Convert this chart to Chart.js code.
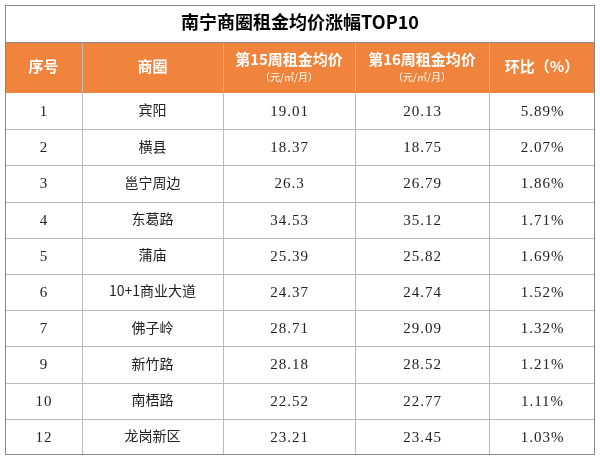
<!DOCTYPE html>
<html><head><meta charset="utf-8">
<script src="https://cdn.jsdelivr.net/npm/chart.js@4/dist/chart.umd.min.js"></script>
<style>html,body{margin:0;padding:0;background:#fff}#wrap{width:600px;height:459px}</style>
</head><body><div id="wrap"><canvas id="c"></canvas></div>
<script>
const title = "南宁商圈租金均价涨幅TOP10";
const headers = ["序号","商圈","第15周租金均价","第16周租金均价","环比（%）"];
const headerSubs = ["","","（元/㎡/月）","（元/㎡/月）",""];
const ranks = ["1","2","3","4","5","6","7","9","10","12"];
const areas = ["宾阳","横县","邕宁周边","东葛路","蒲庙","10+1商业大道","佛子岭","新竹路","南梧路","龙岗新区"];
const week15 = ["19.01","18.37","26.3","34.53","25.39","24.37","28.71","28.18","22.52","23.21"];
const week16 = ["20.13","18.75","26.79","35.12","25.82","24.74","29.09","28.52","22.77","23.45"];
const change = ["5.89%","2.07%","1.86%","1.71%","1.69%","1.52%","1.32%","1.21%","1.11%","1.03%"];
const colEdges = [0,77,218,350,484,590];

const cols = [ranks, areas, week15, week16, change];
const CJK = '"Noto Sans CJK SC", sans-serif';
const NUM = '"Liberation Serif", serif';

const tablePlugin = {
  id:'table',
  afterDraw(chart){
    const {ctx, scales:{x,y}, chartArea:ca} = chart;
    const top = 5, headTop = 42;
    ctx.save();
    ctx.fillStyle = '#F0843C';
    ctx.fillRect(ca.left, headTop, ca.right-ca.left, ca.top-headTop);
    ctx.fillStyle = '#000';
    ctx.font = 'bold 18px ' + CJK;
    ctx.textAlign='center'; ctx.textBaseline='middle';
    ctx.fillText(title, (ca.left+ca.right)/2, (top+headTop)/2-1);
    for(let c=0;c<5;c++){
      const cx = (x.getPixelForValue(colEdges[c])+x.getPixelForValue(colEdges[c+1]))/2;
      ctx.fillStyle='#fff';
      if(headerSubs[c]){
        ctx.font='bold 15px '+CJK; ctx.fillText(headers[c], cx, headTop+17);
        ctx.font='10px '+CJK; ctx.fillText(headerSubs[c], cx, headTop+35);
      } else {
        ctx.font='bold 15px '+CJK; ctx.fillText(headers[c], cx, (headTop+ca.top)/2-1);
      }
    }
    for(let r=0;r<ranks.length;r++){
      const cy = y.getPixelForValue(r);
      for(let c=0;c<5;c++){
        const cx = (x.getPixelForValue(colEdges[c])+x.getPixelForValue(colEdges[c+1]))/2;
        const v = cols[c][r];
        ctx.fillStyle='#222';
        if(c===1){ ctx.font='14px '+CJK; ctx.letterSpacing='0px'; ctx.fillText(v, cx, cy-1); }
        else { ctx.font='15px '+NUM; ctx.letterSpacing='1px'; ctx.fillText(v, cx+0.5, cy+1); }
      }
    }
    ctx.letterSpacing='0px';
    ctx.strokeStyle='#bbb'; ctx.lineWidth=1;
    const rowH = (ca.bottom-ca.top)/ranks.length;
    for(let r=1;r<ranks.length;r++){
      const yy = Math.round(ca.top+r*rowH)+0.5;
      ctx.beginPath(); ctx.moveTo(ca.left,yy); ctx.lineTo(ca.right,yy); ctx.stroke();
    }
    for(let c=1;c<5;c++){
      const xx = Math.round(x.getPixelForValue(colEdges[c]))+0.5;
      ctx.beginPath(); ctx.moveTo(xx,headTop); ctx.lineTo(xx,ca.bottom); ctx.stroke();
    }
    ctx.strokeStyle='#888';
    ctx.beginPath(); ctx.moveTo(ca.left,headTop+0.5); ctx.lineTo(ca.right,headTop+0.5); ctx.stroke();
    ctx.strokeRect(ca.left+0.5, top+0.5, ca.right-ca.left-1, ca.bottom-top-1);
    ctx.restore();
  }
};

new Chart(document.getElementById('c'), {
  type:'scatter',
  data:{datasets:[{data:[],pointRadius:0}]},
  options:{
    responsive:true, maintainAspectRatio:false, animation:false,
    layout:{padding:{left:5,right:5,top:93,bottom:4}},
    plugins:{legend:{display:false},tooltip:{enabled:false}},
    scales:{
      x:{type:'linear',min:colEdges[0],max:colEdges[colEdges.length-1],display:false},
      y:{type:'category',labels:ranks,offset:true,display:false}
    }
  },
  plugins:[tablePlugin]
});
</script></body></html>
